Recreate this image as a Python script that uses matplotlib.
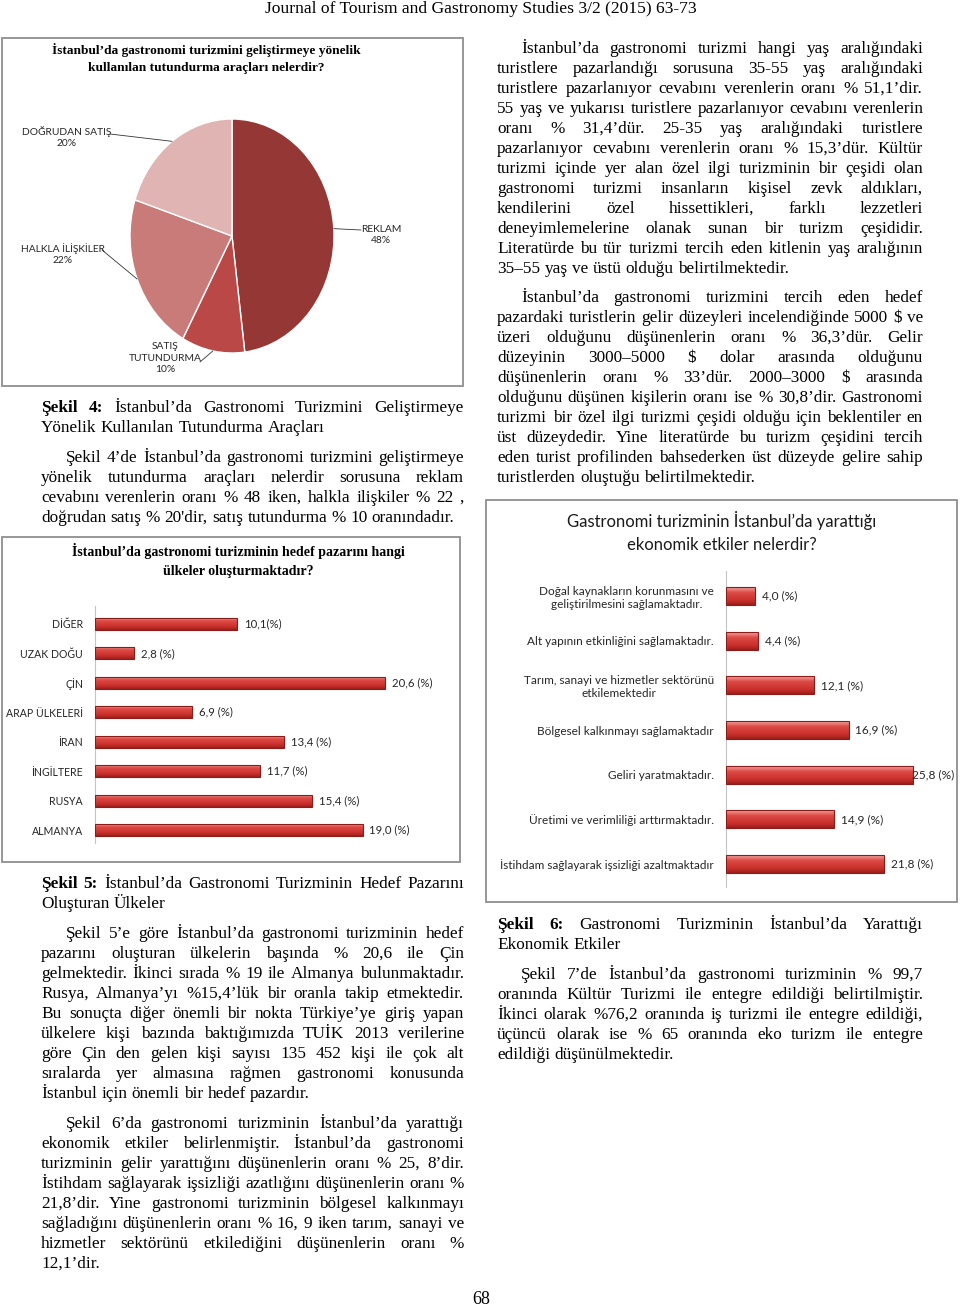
import numpy as np
import matplotlib
matplotlib.use("Agg")
import matplotlib.pyplot as plt  # noqa: E402
from matplotlib.colors import LinearSegmentedColormap  # noqa: E402
from matplotlib.patches import Rectangle  # noqa: E402

W, H = 960, 1309
SERIF = ["Liberation Serif", "DejaVu Serif"]
SANS = ["Lato", "DejaVu Sans"]
BODY = 12.4

# --- chart data ---------------------------------------------------------
promo_labels = ["REKLAM", "SATIŞ\nTUTUNDURMA", "HALKLA İLİŞKİLER", "DOĞRUDAN SATIŞ"]
promo_share = [48, 10, 22, 20]
promo_colors = ["#953735", "#b94846", "#c97b7a", "#e0b4b3"]

countries = ["DİĞER", "UZAK DOĞU", "ÇİN", "ARAP ÜLKELERİ", "İRAN", "İNGİLTERE",
             "RUSYA", "ALMANYA"]
country_share = [10.1, 2.8, 20.6, 6.9, 13.4, 11.7, 15.4, 19.0]

effects = ["Doğal kaynakların korunmasını ve\ngeliştirilmesini sağlamaktadır.",
           "Alt yapının etkinliğini sağlamaktadır.",
           "Tarım, sanayi ve hizmetler sektörünü\netkilemektedir",
           "Bölgesel kalkınmayı sağlamaktadır",
           "Geliri yaratmaktadır.",
           "Üretimi ve verimliliği arttırmaktadır.",
           "İstihdam sağlayarak işsizliği azaltmaktadır"]
effect_share = [4.0, 4.4, 12.1, 16.9, 25.8, 14.9, 21.8]

# --- page text ------------------------------------------------------------
cap4 = ["Şekil 4: İstanbul’da Gastronomi Turizmini Geliştirmeye",
        "Yönelik Kullanılan Tutundurma Araçları"]
par4 = ["Şekil 4’de İstanbul’da gastronomi turizmini geliştirmeye",
        "yönelik tutundurma araçları nelerdir sorusuna reklam",
        "cevabını verenlerin oranı % 48 iken, halkla ilişkiler % 22 ,",
        "doğrudan satış % 20'dir, satış tutundurma % 10 oranındadır."]
cap5 = ["Şekil 5: İstanbul’da Gastronomi Turizminin Hedef Pazarını",
        "Oluşturan Ülkeler"]
par5 = ["Şekil 5’e göre İstanbul’da gastronomi turizminin hedef",
        "pazarını oluşturan ülkelerin başında % 20,6 ile Çin",
        "gelmektedir. İkinci sırada % 19 ile Almanya bulunmaktadır.",
        "Rusya, Almanya’yı  %15,4’lük bir oranla takip etmektedir.",
        "Bu sonuçta diğer önemli bir nokta Türkiye’ye giriş yapan",
        "ülkelere kişi bazında baktığımızda TUİK 2013 verilerine",
        "göre Çin den gelen kişi sayısı 135 452 kişi ile çok alt",
        "sıralarda yer almasına rağmen gastronomi konusunda",
        "İstanbul için önemli bir hedef pazardır."]
par6 = ["Şekil 6’da gastronomi turizminin İstanbul’da yarattığı",
        "ekonomik etkiler belirlenmiştir. İstanbul’da gastronomi",
        "turizminin gelir yarattığını düşünenlerin oranı % 25, 8’dir.",
        "İstihdam sağlayarak işsizliği azatlığını düşünenlerin oranı %",
        "21,8’dir. Yine gastronomi turizminin bölgesel kalkınmayı",
        "sağladığını düşünenlerin oranı % 16, 9 iken tarım, sanayi ve",
        "hizmetler sektörünü etkilediğini düşünenlerin oranı %",
        "12,1’dir."]
parR1 = ["İstanbul’da gastronomi turizmi hangi yaş aralığındaki",
         "turistlere pazarlandığı sorusuna 35-55 yaş aralığındaki",
         "turistlere pazarlanıyor cevabını verenlerin oranı % 51,1’dir.",
         "55 yaş ve yukarısı turistlere pazarlanıyor cevabını verenlerin",
         "oranı % 31,4’dür. 25-35 yaş aralığındaki turistlere",
         "pazarlanıyor cevabını verenlerin oranı % 15,3’dür. Kültür",
         "turizmi içinde yer alan özel ilgi turizminin bir çeşidi olan",
         "gastronomi turizmi insanların kişisel zevk aldıkları,",
         "kendilerini özel hissettikleri, farklı lezzetleri",
         "deneyimlemelerine olanak sunan bir turizm çeşididir.",
         "Literatürde bu tür turizmi tercih eden kitlenin yaş aralığının",
         "35–55 yaş ve üstü olduğu belirtilmektedir."]
parR2 = ["İstanbul’da gastronomi turizmini tercih eden hedef",
         "pazardaki turistlerin gelir düzeyleri incelendiğinde 5000 $ ve",
         "üzeri olduğunu düşünenlerin oranı % 36,3’dür. Gelir",
         "düzeyinin 3000–5000 $ dolar arasında olduğunu",
         "düşünenlerin oranı % 33’dür. 2000–3000 $ arasında",
         "olduğunu düşünen kişilerin oranı ise % 30,8’dir. Gastronomi",
         "turizmi bir özel ilgi turizmi çeşidi olduğu için beklentiler en",
         "üst düzeydedir. Yine literatürde bu turizm çeşidini tercih",
         "eden turist profilinden bahsederken üst düzeyde gelire sahip",
         "turistlerden oluştuğu belirtilmektedir."]
cap6 = ["Şekil 6: Gastronomi Turizminin İstanbul’da Yarattığı",
        "Ekonomik Etkiler"]
par7 = ["Şekil 7’de İstanbul’da gastronomi turizminin % 99,7",
        "oranında Kültür Turizmi ile entegre edildiği belirtilmiştir.",
        "İkinci olarak %76,2 oranında iş turizmi ile entegre edildiği,",
        "üçüncü olarak ise % 65 oranında eko turizm ile entegre",
        "edildiği düşünülmektedir."]

fig = plt.figure(figsize=(W / 100, H / 100), dpi=100)
fig.patch.set_facecolor("white")
renderer = fig.canvas.get_renderer()


def box(x0, y0, x1, y1):
    return [x0 / W, 1 - y1 / H, (x1 - x0) / W, (y1 - y0) / H]


def frame(x0, y0, x1, y1):
    fig.add_artist(Rectangle((x0 / W, 1 - y1 / H), (x1 - x0) / W, (y1 - y0) / H,
                             transform=fig.transFigure, fill=False,
                             edgecolor="#8f8f8f", lw=1.3))


def ftext(x, y, s, **kw):
    kw.setdefault("family", SERIF)
    kw.setdefault("parse_math", False)
    return fig.text(x / W, 1 - y / H, s, **kw)


def text_w(s, size, weight="normal"):
    t = fig.text(0, 0, s, fontsize=size, fontweight=weight, family=SERIF,
                 parse_math=False)
    w = t.get_window_extent(renderer).width
    t.remove()
    return w


def paragraph(lines, x0, x1, y0, size=BODY, lead=20, indent=0, bold=0):
    # justified block, last line left aligned
    sp = text_w("a a", size) - text_w("aa", size)
    nb = bold
    for i, line in enumerate(lines):
        words = line.split()
        weights = []
        for _ in words:
            weights.append("bold" if nb > 0 else "normal")
            nb -= 1
        ws = [text_w(w, size, wt) for w, wt in zip(words, weights)]
        start = x0 + (indent if i == 0 else 0)
        if i == len(lines) - 1 or len(words) < 2:
            gap = sp
        else:
            gap = (x1 - start - sum(ws)) / (len(words) - 1)
        x = start
        for w, wt, ww in zip(words, weights, ws):
            ftext(x, y0 + i * lead + 5, w, fontsize=size, fontweight=wt,
                  va="baseline")
            x += ww + gap


bar_cmap = LinearSegmentedColormap.from_list(
    "bar", [(0, "#f3a4a0"), (0.3, "#dd4a45"), (0.75, "#c92f2b"), (1, "#9b1f1c")])


def shaded_barh(ax, values, height):
    y = np.arange(len(values))
    bars = ax.barh(y, values, height=height, facecolor="none",
                   edgecolor="#8a1c1a", lw=0.8, zorder=3)
    grad = np.linspace(0, 1, 64).reshape(-1, 1)
    for b in bars:
        x0, y0, bw, bh = b.get_x(), b.get_y(), b.get_width(), b.get_height()
        im = ax.imshow(grad, extent=(x0, x0 + bw, y0, y0 + bh), origin="lower",
                       cmap=bar_cmap, aspect="auto", zorder=2,
                       interpolation="bilinear")
        im.set_clip_path(b)
    return bars


def bar_panel(rect, cats, values, xmax, ylim, height, cat_size, val_size,
              val_labels, right_px):
    ax = fig.add_axes(rect)
    ax.set_facecolor("none")
    bars = shaded_barh(ax, values, height)
    ax.set_xlim(0, xmax)
    ax.set_ylim(*ylim)
    ax.set_yticks(np.arange(len(cats)))
    ax.set_yticklabels(cats, family=SANS, fontsize=cat_size, color="#262626")
    for t in ax.get_yticklabels():
        t.set_multialignment("center")
    ax.tick_params(axis="y", length=0, pad=8.6)
    ax.set_xticks([])
    for s in ("top", "right", "bottom"):
        ax.spines[s].set_visible(False)
    ax.spines["left"].set_color("#c4c4c4")
    for b, lab in zip(bars, val_labels):
        t = ax.annotate(lab, (b.get_width(), b.get_y() + b.get_height() / 2),
                        xytext=(5, 0), textcoords="offset points", ha="left",
                        va="center", family=SANS, fontsize=val_size,
                        color="#262626", annotation_clip=False)
        ext = t.get_window_extent(renderer)
        if ext.x1 > right_px:
            # squeeze a label that would run past the frame, like Excel does
            shift = min(ext.x1 - right_px, 12)
            t.set_position((5 - shift * 0.72, 0))
    return ax


def pct(v):
    return f"{v:.1f}".replace(".", ",")


# --- header ---------------------------------------------------------------
ftext(481, 9, "Journal of Tourism and Gastronomy Studies 3/2 (2015) 63-73",
      fontsize=12.6, ha="center", va="center")

# --- Figure 4: pie --------------------------------------------------------
frame(2, 38, 463, 386)
ftext(206, 50, "İstanbul’da gastronomi turizmini geliştirmeye yönelik",
      fontsize=9.6, fontweight="bold", ha="center", va="center")
ftext(206, 68, "kullanılan tutundurma araçları nelerdir?",
      fontsize=9.6, fontweight="bold", ha="center", va="center")

pax = fig.add_axes(box(130, 119, 334, 353))
wedges, _ = pax.pie(promo_share, colors=promo_colors, startangle=90,
                    counterclock=False,
                    wedgeprops=dict(edgecolor="white", linewidth=1.0))
pax.set_xlim(-1, 1)
pax.set_ylim(-1, 1)
pax.set_aspect("auto")

# label centre and leader start, in page pixels
label_pos = [(381, 235), (165, 358), (63, 254), (67, 137)]
leader_from = [(361, 230), (200, 362), (102, 250), (110, 134)]
for w, lab, v, (tx, ty), (lx, ly) in zip(wedges, promo_labels, promo_share,
                                          label_pos, leader_from):
    th = np.deg2rad((w.theta1 + w.theta2) / 2)
    pax.annotate("", xy=(np.cos(th), np.sin(th)), xycoords="data",
                 xytext=(lx, H - ly), textcoords="figure pixels",
                 arrowprops=dict(arrowstyle="-", color="#333333", lw=0.6,
                                 shrinkA=0, shrinkB=0),
                 annotation_clip=False)
    ftext(tx, ty, f"{lab}\n{v}%", family=SANS, fontsize=7.4, ha="center",
          va="center", linespacing=1.4, color="#262626")

paragraph(cap4, 41, 464, 407, bold=2)
paragraph(par4, 41, 464, 457, indent=25)

# --- Figure 5: countries ---------------------------------------------------
frame(2, 537, 460, 862)
ftext(238, 551, "İstanbul’da gastronomi turizminin hedef pazarını hangi",
      fontsize=10, fontweight="bold", ha="center", va="center")
ftext(238, 572, "ülkeler oluşturmaktadır?",
      fontsize=10, fontweight="bold", ha="center", va="center")
country_labels = [pct(v) + ("(%)" if i == 0 else " (%)")
                  for i, v in enumerate(country_share)]
bar_panel(box(95, 606, 435, 843), countries, country_share, 340 / 14.08,
          (7.44, -0.61), 0.41, 7.6, 8.2, country_labels, 455)

paragraph(cap5, 41, 464, 883, bold=2)
paragraph(par5, 41, 464, 933, indent=25)
paragraph(par6, 41, 464, 1123, indent=25)

# --- right column -----------------------------------------------------------
paragraph(parR1, 497, 923, 48, indent=24)
paragraph(parR2, 497, 923, 297, indent=24)

# --- Figure 6: economic effects ---------------------------------------------
frame(486, 500, 957, 902)
ftext(722, 521, "Gastronomi turizminin İstanbul’da yarattığı", family=SANS,
      fontsize=12, ha="center", va="center", color="#1a1a1a")
ftext(722, 545, "ekonomik etkiler nelerdir?", family=SANS,
      fontsize=12, ha="center", va="center", color="#1a1a1a")
effect_labels = [pct(v) + " (%)" for v in effect_share]
bar_panel(box(726, 571, 957, 887), effects, effect_share, 231 / 7.25,
          (6.515, -0.56), 0.4, 8.5, 8.6, effect_labels, 954)

paragraph(cap6, 497, 923, 924, bold=2)
paragraph(par7, 497, 923, 974, indent=24)

ftext(481, 1299, "68", fontsize=13, ha="center", va="center")

fig.savefig("out.png", dpi=100, facecolor="white")
